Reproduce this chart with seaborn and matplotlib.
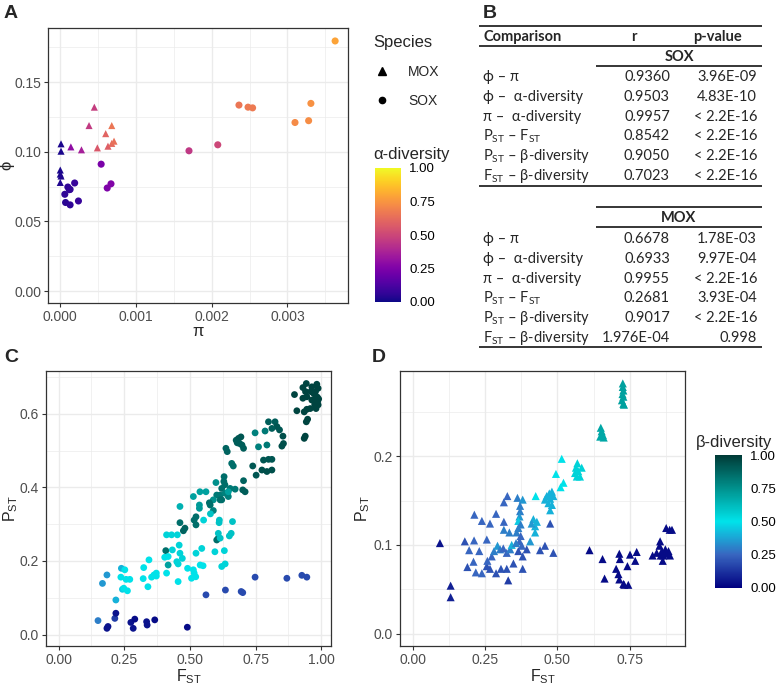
import matplotlib
matplotlib.use("Agg")
import numpy as np
import pandas as pd
import matplotlib.pyplot as plt
import seaborn as sns
from matplotlib.colors import LinearSegmentedColormap, Normalize
from matplotlib.lines import Line2D
from matplotlib.ticker import MultipleLocator

sns.set_style("white")
plt.rcParams["font.family"] = ["Liberation Sans", "DejaVu Sans"]
plt.rcParams["mathtext.fontset"] = "custom"
plt.rcParams["mathtext.rm"] = "Liberation Sans"

# ---- panel A : phi vs pi ----
a_species = ["MOX"] * 16 + ["SOX"] * 20
a_pi = [0.00001, 0.00001, 0.0, 0.0, 0.00001, 0.0, 0.00014, 0.00028, 0.00038, 0.00045,
        0.00049, 0.00060, 0.00063, 0.00068, 0.00068, 0.00071,
        0.00363, 0.00236, 0.00248, 0.00254, 0.00331, 0.00310, 0.00328, 0.00170, 0.00208,
        0.00054, 0.00062, 0.00067, 0.00006, 0.00010, 0.00012, 0.00013, 0.00019, 0.00007,
        0.00013, 0.00024]
a_phi = [0.1057, 0.1004, 0.0869, 0.0840, 0.0826, 0.0780, 0.1035, 0.1014, 0.1188, 0.1320,
         0.1028, 0.1130, 0.1040, 0.1188, 0.1060, 0.1076,
         0.1795, 0.1335, 0.1320, 0.1315, 0.1347, 0.1210, 0.1223, 0.1007, 0.1050,
         0.0911, 0.0740, 0.0770, 0.0695, 0.0747, 0.0728, 0.0730, 0.0776, 0.0636,
         0.0619, 0.0647]
a_alpha = [0.02, 0.02, 0.02, 0.02, 0.03, 0.03, 0.30, 0.36, 0.46, 0.47,
           0.56, 0.60, 0.58, 0.66, 0.62, 0.64,
           0.79, 0.66, 0.67, 0.67, 0.74, 0.72, 0.73, 0.45, 0.50,
           0.24, 0.25, 0.26, 0.06, 0.06, 0.06, 0.07, 0.08, 0.05, 0.06, 0.08]

# ---- panel C : SOX, Pst vs Fst ----
c_fst = [0.898, 0.930, 0.943, 0.940, 0.964, 0.983, 0.988, 0.971, 0.977, 0.986, 0.988, 0.980,
         0.964, 0.945, 0.930, 0.907, 0.935, 0.945, 0.958, 0.943, 0.948, 0.935, 0.939, 0.985,
         0.975, 0.960, 0.990, 0.978,
         0.748, 0.786, 0.799, 0.824, 0.831, 0.841, 0.812, 0.854, 0.850, 0.856, 0.761, 0.793,
         0.780, 0.799, 0.812, 0.774, 0.793, 0.812, 0.739, 0.752,
         0.637, 0.642, 0.659, 0.665, 0.676, 0.685, 0.694, 0.698, 0.704, 0.689, 0.680, 0.704,
         0.701, 0.710, 0.672, 0.653, 0.642, 0.633, 0.629, 0.615, 0.602, 0.621, 0.646,
         0.599, 0.630, 0.621, 0.634, 0.646, 0.615, 0.589, 0.538, 0.561, 0.513, 0.536, 0.536,
         0.574, 0.577, 0.589, 0.578, 0.523, 0.516, 0.552, 0.523, 0.481, 0.475, 0.462, 0.462,
         0.612, 0.611, 0.662, 0.657, 0.650, 0.602, 0.608,
         0.411, 0.430, 0.452, 0.459, 0.408, 0.417, 0.404, 0.411, 0.433, 0.462, 0.471, 0.450,
         0.455, 0.417, 0.455, 0.491, 0.513, 0.516, 0.506, 0.522, 0.523, 0.539, 0.550, 0.545,
         0.608, 0.615, 0.595, 0.621, 0.634, 0.631,
         0.184, 0.167, 0.239, 0.252, 0.237, 0.257, 0.271, 0.243, 0.262, 0.248, 0.218, 0.324,
         0.344, 0.322, 0.340, 0.363, 0.372, 0.372, 0.354,
         0.748, 0.869, 0.926, 0.945, 0.561, 0.635, 0.695, 0.701,
         0.150, 0.184, 0.188, 0.214, 0.218, 0.275, 0.284, 0.290, 0.335, 0.337, 0.366, 0.490]
c_pst = [0.652, 0.671, 0.682, 0.660, 0.673, 0.680, 0.669, 0.655, 0.642, 0.633, 0.624, 0.614,
         0.637, 0.646, 0.642, 0.608, 0.605, 0.612, 0.614, 0.578, 0.585, 0.533, 0.539, 0.645,
         0.625, 0.660, 0.640, 0.660,
         0.548, 0.553, 0.578, 0.578, 0.565, 0.556, 0.560, 0.539, 0.512, 0.519, 0.510, 0.515,
         0.474, 0.476, 0.476, 0.447, 0.443, 0.447, 0.458, 0.433,
         0.506, 0.497, 0.465, 0.458, 0.528, 0.533, 0.537, 0.515, 0.506, 0.519, 0.521, 0.418,
         0.393, 0.388, 0.395, 0.397, 0.384, 0.407, 0.416, 0.379, 0.379, 0.366, 0.375,
         0.413, 0.429, 0.397, 0.384, 0.388, 0.366, 0.366, 0.388, 0.388, 0.375, 0.352, 0.343,
         0.358, 0.352, 0.337, 0.328, 0.320, 0.311, 0.311, 0.298, 0.289, 0.282, 0.348, 0.304,
         0.311, 0.304, 0.307, 0.275, 0.268, 0.257, 0.262,
         0.271, 0.271, 0.271, 0.243, 0.228, 0.212, 0.210, 0.167, 0.230, 0.221, 0.207, 0.198,
         0.192, 0.189, 0.144, 0.180, 0.176, 0.167, 0.153, 0.157, 0.221, 0.189, 0.187, 0.234,
         0.275, 0.262, 0.225, 0.185, 0.192, 0.228,
         0.162, 0.139, 0.180, 0.176, 0.156, 0.150, 0.150, 0.123, 0.119, 0.126, 0.094, 0.182,
         0.203, 0.152, 0.130, 0.162, 0.167, 0.159, 0.156,
         0.156, 0.153, 0.161, 0.156, 0.108, 0.121, 0.117, 0.114,
         0.038, 0.017, 0.022, 0.044, 0.058, 0.033, 0.017, 0.042, 0.035, 0.026, 0.040, 0.020]
c_beta = [0.97] * 28 + \
         [0.80, 0.82, 0.90, 0.90, 0.92, 0.92, 0.90, 0.94, 0.94, 0.94, 0.80, 0.82,
          0.92, 0.92, 0.92, 0.94, 0.94, 0.94, 0.92, 0.92] + \
         [0.88, 0.88, 0.85, 0.85, 0.90, 0.92, 0.92, 0.90, 0.90, 0.90, 0.90, 0.88,
          0.90, 0.90, 0.82, 0.82, 0.80, 0.85, 0.85, 0.82, 0.82, 0.85, 0.80] + \
         [0.75, 0.85, 0.85, 0.80, 0.70, 0.85, 0.75, 0.70, 0.70, 0.70, 0.72, 0.72,
          0.85, 0.85, 0.80, 0.60, 0.85, 0.85, 0.55, 0.85, 0.88, 0.88, 0.65, 0.85,
          0.60, 0.60, 0.60, 0.60, 0.60, 0.85, 0.85] + \
         [0.55, 0.55, 0.55, 0.55, 0.85, 0.50, 0.50, 0.50, 0.55, 0.55, 0.55, 0.55,
          0.55, 0.70, 0.50, 0.50, 0.50, 0.50, 0.50, 0.50, 0.55, 0.50, 0.50, 0.55,
          0.60, 0.60, 0.55, 0.55, 0.55, 0.55] + \
         [0.35, 0.35, 0.40, 0.50, 0.50, 0.50, 0.50, 0.45, 0.50, 0.50, 0.40, 0.50,
          0.50, 0.50, 0.50, 0.50, 0.50, 0.50, 0.50] + \
         [0.18] * 8 + \
         [0.30, 0.05, 0.05, 0.15, 0.05, 0.05, 0.05, 0.03, 0.05, 0.05, 0.03, 0.03]

# ---- panel D : MOX, Pst vs Fst ----
d_fst = [0.726, 0.726, 0.728, 0.725, 0.728, 0.723, 0.728, 0.730,
         0.650, 0.653, 0.657, 0.648, 0.660,
         0.569, 0.564, 0.572, 0.584, 0.561, 0.567, 0.578,
         0.515, 0.495, 0.521, 0.511, 0.425,
         0.481, 0.472, 0.463, 0.457, 0.475, 0.486, 0.469, 0.481, 0.475,
         0.362, 0.380, 0.327, 0.315, 0.371, 0.371, 0.369, 0.365, 0.373, 0.365, 0.359, 0.373,
         0.369, 0.377, 0.365, 0.380, 0.380, 0.348, 0.325, 0.330, 0.305, 0.288, 0.267, 0.256,
         0.258, 0.273, 0.281, 0.293, 0.302, 0.313, 0.325, 0.337, 0.342, 0.357, 0.394, 0.406,
         0.423, 0.417, 0.423, 0.411, 0.429, 0.440, 0.457, 0.475, 0.486,
         0.213, 0.239, 0.267, 0.288, 0.315, 0.315, 0.334, 0.180, 0.212, 0.256, 0.195, 0.230,
         0.210, 0.189, 0.218, 0.239, 0.094, 0.131, 0.131,
         0.611, 0.656, 0.663, 0.714, 0.716, 0.703, 0.711, 0.714, 0.728, 0.745, 0.731, 0.742,
         0.751, 0.769, 0.774, 0.829, 0.843, 0.855, 0.853, 0.861, 0.866, 0.873, 0.878, 0.884,
         0.889, 0.864, 0.876, 0.896, 0.888, 0.857]
d_pst = [0.282, 0.278, 0.274, 0.270, 0.267, 0.263, 0.259, 0.258,
         0.232, 0.228, 0.224, 0.222, 0.221,
         0.192, 0.187, 0.183, 0.187, 0.181, 0.177, 0.177,
         0.197, 0.180, 0.170, 0.165, 0.155,
         0.160, 0.158, 0.155, 0.151, 0.152, 0.155, 0.147, 0.145, 0.139,
         0.153, 0.151, 0.155, 0.148, 0.144, 0.138, 0.132, 0.127, 0.123, 0.119, 0.114, 0.110,
         0.104, 0.099, 0.093, 0.087, 0.073, 0.079, 0.073, 0.060, 0.073, 0.068, 0.073, 0.076,
         0.082, 0.087, 0.093, 0.099, 0.095, 0.096, 0.091, 0.095, 0.100, 0.102, 0.095, 0.104,
         0.114, 0.129, 0.121, 0.124, 0.126, 0.094, 0.099, 0.124, 0.091,
         0.134, 0.127, 0.124, 0.135, 0.126, 0.117, 0.114, 0.104, 0.105, 0.106, 0.094, 0.093,
         0.081, 0.075, 0.069, 0.068, 0.102, 0.054, 0.041,
         0.094, 0.084, 0.062, 0.090, 0.084, 0.073, 0.067, 0.061, 0.056, 0.055, 0.055, 0.076,
         0.089, 0.082, 0.092, 0.088, 0.091, 0.104, 0.099, 0.093, 0.088, 0.095, 0.090, 0.093,
         0.088, 0.082, 0.119, 0.117, 0.117, 0.088]
d_beta = [0.70] * 8 + [0.68] * 5 + [0.55] * 7 + [0.50] * 5 + [0.40] * 9 + \
         [0.30, 0.35, 0.25, 0.25, 0.30, 0.30, 0.35, 0.45, 0.30, 0.30, 0.30, 0.25,
          0.25, 0.25, 0.20, 0.20, 0.20, 0.20, 0.20, 0.15, 0.20, 0.20, 0.20, 0.20,
          0.25, 0.25, 0.30, 0.35, 0.30, 0.25, 0.25, 0.30, 0.40, 0.30, 0.20, 0.35,
          0.40, 0.40, 0.40, 0.35, 0.40, 0.20, 0.20, 0.20, 0.20] + \
         [0.25, 0.25, 0.25, 0.25, 0.25, 0.30, 0.30, 0.20, 0.25, 0.25, 0.25, 0.25,
          0.25, 0.20, 0.25, 0.25, 0.05, 0.08, 0.08] + \
         [0.03] * 30

# table B
tb_rows = ["ϕ – π", "ϕ –  α-diversity", "π –  α-diversity",
           "P$_{\\mathregular{ST}}$ – F$_{\\mathregular{ST}}$",
           "P$_{\\mathregular{ST}}$ – β-diversity", "F$_{\\mathregular{ST}}$ – β-diversity"]
sox_r = ["0.9360", "0.9503", "0.9957", "0.8542", "0.9050", "0.7023"]
sox_p = ["3.96E-09", "4.83E-10", "< 2.2E-16", "< 2.2E-16", "< 2.2E-16", "< 2.2E-16"]
mox_r = ["0.6678", "0.6933", "0.9955", "0.2681", "0.9017", "1.976E-04"]
mox_p = ["1.78E-03", "9.97E-04", "< 2.2E-16", "3.93E-04", "< 2.2E-16", "0.998"]

df_a = pd.DataFrame({"pi": a_pi, "phi": a_phi, "alpha": a_alpha, "Species": a_species})
df_c = pd.DataFrame({"Fst": c_fst, "Pst": c_pst, "beta": c_beta})
df_d = pd.DataFrame({"Fst": d_fst, "Pst": d_pst, "beta": d_beta})

beta_cmap = LinearSegmentedColormap.from_list(
    "beta", ["#000080", "#3866c0", "#00e3ea", "#00918d", "#003b37"])
alpha_cmap = plt.get_cmap("plasma")

W, H = 777, 685
fig = plt.figure(figsize=(W / 100, H / 100), dpi=100)


def box(l, t, r, b):
    return [l / W, 1 - b / H, (r - l) / W, (b - t) / H]


def style(ax):
    for s in ax.spines.values():
        s.set_color("#333333")
        s.set_linewidth(0.9)
    ax.grid(which="major", color="#ebebeb", lw=1.0)
    ax.grid(which="minor", color="#ebebeb", lw=0.5)
    ax.set_axisbelow(True)
    ax.tick_params(which="major", colors="#333333", labelcolor="#4d4d4d",
                   labelsize=10, length=3, width=0.8, pad=2, bottom=True, left=True)
    ax.tick_params(which="minor", length=0)


# ---- A ----
axA = fig.add_axes(box(48, 28, 348, 303))
sns.scatterplot(data=df_a, x="pi", y="phi", hue="alpha", palette=alpha_cmap,
                hue_norm=(0, 1), style="Species", markers={"MOX": "^", "SOX": "o"},
                s=26, linewidth=0, legend=False, ax=axA)
axA.set_xlim(-0.000162, 0.0038)
axA.set_ylim(-0.0085, 0.1888)
axA.xaxis.set_major_locator(MultipleLocator(0.001))
axA.xaxis.set_minor_locator(MultipleLocator(0.0005))
axA.yaxis.set_major_locator(MultipleLocator(0.05))
axA.yaxis.set_minor_locator(MultipleLocator(0.025))
axA.xaxis.set_major_formatter(lambda v, p: f"{v:.3f}")
axA.yaxis.set_major_formatter(lambda v, p: f"{v:.2f}")
axA.set_xlabel("π", fontsize=12, labelpad=0)
axA.set_ylabel("ϕ", fontsize=12, labelpad=0)
style(axA)

# ---- C ----
axC = fig.add_axes(box(46, 371, 331, 646))
sns.scatterplot(data=df_c, x="Fst", y="Pst", hue="beta", palette=beta_cmap,
                hue_norm=(0, 1), s=24, linewidth=0, legend=False, ax=axC)
axC.set_xlim(-0.048, 1.037)
axC.set_ylim(-0.031, 0.716)
axC.xaxis.set_major_locator(MultipleLocator(0.25))
axC.xaxis.set_minor_locator(MultipleLocator(0.125))
axC.yaxis.set_major_locator(MultipleLocator(0.2))
axC.yaxis.set_minor_locator(MultipleLocator(0.1))
axC.xaxis.set_major_formatter(lambda v, p: f"{v:.2f}")
axC.yaxis.set_major_formatter(lambda v, p: f"{v:.1f}")
axC.set_xlabel("F$_{\\mathregular{ST}}$", fontsize=11.5, labelpad=0)
axC.set_ylabel("P$_{\\mathregular{ST}}$", fontsize=11.5, labelpad=0)
style(axC)

# ---- D ----
axD = fig.add_axes(box(400, 371, 685, 646))
sns.scatterplot(data=df_d, x="Fst", y="Pst", hue="beta", palette=beta_cmap,
                hue_norm=(0, 1), marker="^", s=34, linewidth=0, legend=False, ax=axD)
axD.set_xlim(-0.044, 0.941)
axD.set_ylim(-0.014, 0.296)
axD.xaxis.set_major_locator(MultipleLocator(0.25))
axD.xaxis.set_minor_locator(MultipleLocator(0.125))
axD.yaxis.set_major_locator(MultipleLocator(0.1))
axD.yaxis.set_minor_locator(MultipleLocator(0.05))
axD.xaxis.set_major_formatter(lambda v, p: f"{v:.2f}")
axD.yaxis.set_major_formatter(lambda v, p: f"{v:.1f}")
axD.set_xlabel("F$_{\\mathregular{ST}}$", fontsize=11.5, labelpad=0)
axD.set_ylabel("P$_{\\mathregular{ST}}$", fontsize=11.5, labelpad=1)
style(axD)


def colorbar(cmap, rect, title, title_x):
    cax = fig.add_axes(box(*rect))
    sm = plt.cm.ScalarMappable(norm=Normalize(0, 1), cmap=cmap)
    cb = fig.colorbar(sm, cax=cax, ticks=[0, 0.25, 0.5, 0.75, 1])
    cb.outline.set_visible(False)
    cb.ax.set_yticklabels(["0.00", "0.25", "0.50", "0.75", "1.00"])
    cax.tick_params(direction="in", color="white", length=5, width=0.8,
                    left=True, right=True, labelsize=9.5, labelcolor="black", pad=6)
    cax.minorticks_off()
    fig.text(title_x / W, 1 - (rect[1] - 13) / H, title, fontsize=12,
             ha="left", va="center")


colorbar(alpha_cmap, (375, 168, 401, 302), "α-diversity", 373)
colorbar(beta_cmap, (715, 455, 742, 588), "β-diversity", 696)

# species legend
handles = [Line2D([], [], marker="^", color="black", ls="none", markersize=6),
           Line2D([], [], marker="o", color="black", ls="none", markersize=4.5)]
leg = fig.legend(handles, ["MOX", "SOX"], title="Species", loc="upper left",
                 bbox_to_anchor=(361 / W, 1 - 22 / H), frameon=False, fontsize=10,
                 title_fontsize=12, handlelength=1.2, handletextpad=1.3,
                 labelspacing=1.1)
leg._legend_box.align = "left"

# panel letters
for lab, x, y in [("A", 4, 13), ("B", 483, 13), ("C", 4, 357), ("D", 372, 357)]:
    fig.text(x / W, 1 - y / H, lab, fontsize=14, fontweight="bold", ha="left", va="center")

# ---- B table ----
ov = fig.add_axes([0, 0, 1, 1])
ov.set_xlim(0, W)
ov.set_ylim(H, 0)
ov.axis("off")
tfont = ["Lato", "DejaVu Sans"]
for y, x0 in [(26, 479), (46, 479), (66, 596), (186, 479), (207, 596), (227, 596), (347, 479)]:
    ov.plot([x0, 762], [y, y], color="black", lw=1.1, solid_capstyle="butt")
ov.text(483, 37, "Comparison", fontsize=10.5, fontweight="bold", family=tfont,
        ha="left", va="center")
ov.text(634, 37, "r", fontsize=10.5, fontweight="bold", family=tfont, ha="center", va="center")
ov.text(717, 37, "p-value", fontsize=10.5, fontweight="bold", family=tfont,
        ha="center", va="center")
ov.text(679, 57, "SOX", fontsize=10.5, fontweight="bold", family=tfont, ha="center", va="center")
ov.text(679, 218, "MOX", fontsize=10.5, fontweight="bold", family=tfont, ha="center", va="center")
for block_y, rvals, pvals in [(77, sox_r, sox_p), (239, mox_r, mox_p)]:
    for i, (lab, r, p) in enumerate(zip(tb_rows, rvals, pvals)):
        y = block_y + i * 19.8
        ov.text(483, y, lab, fontsize=10.5, family=tfont, ha="left", va="center")
        ov.text(670, y, r, fontsize=10.5, family=tfont, ha="right", va="center")
        ov.text(757, y, p, fontsize=10.5, family=tfont, ha="right", va="center")

fig.savefig("out.png", dpi=100)
